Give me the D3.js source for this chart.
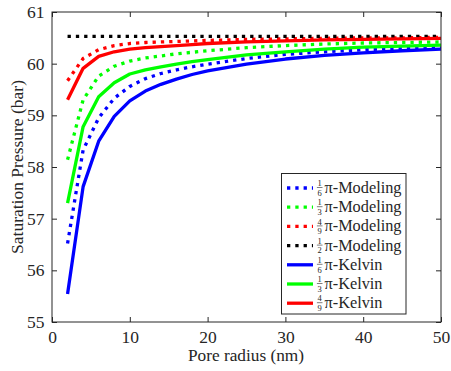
<!DOCTYPE html>
<html>
<head>
<meta charset="utf-8">
<script src="https://cdn.jsdelivr.net/npm/d3@7"></script>
<style>
  html, body { margin: 0; padding: 0; background: #fff; }
  svg { display: block; }
</style>
</head>
<body>
<svg id="chart" width="451" height="371"></svg>
<script>
// Pore radius (nm) at which each curve is sampled
const radius = [2, 4, 6, 8, 10, 12, 14, 16, 18, 20, 25, 30, 35, 40, 45, 50];

// Saturation pressure (bar), modeling results
const model16 = [56.52, 58.33, 58.95, 59.33, 59.56, 59.71, 59.81, 59.88, 59.94, 59.99, 60.10, 60.18, 60.23, 60.27, 60.30, 60.32];
const model13 = [58.14, 59.30, 59.76, 59.95, 60.05, 60.11, 60.15, 60.19, 60.22, 60.25, 60.31, 60.35, 60.38, 60.40, 60.41, 60.42];
const model49 = [59.67, 60.10, 60.27, 60.35, 60.39, 60.41, 60.42, 60.43, 60.44, 60.45, 60.47, 60.48, 60.49, 60.50, 60.50, 60.51];
const model12 = [60.53, 60.53, 60.53, 60.53, 60.53, 60.53, 60.53, 60.53, 60.53, 60.53, 60.53, 60.53, 60.53, 60.53, 60.53, 60.53];

// Saturation pressure (bar), Kelvin equation
const kelvin16 = [55.54, 57.62, 58.50, 58.98, 59.28, 59.47, 59.60, 59.70, 59.79, 59.86, 59.99, 60.09, 60.16, 60.21, 60.25, 60.28];
const kelvin13 = [57.30, 58.78, 59.36, 59.63, 59.80, 59.88, 59.94, 59.99, 60.04, 60.08, 60.17, 60.23, 60.28, 60.32, 60.34, 60.36];
const kelvin49 = [59.30, 59.91, 60.14, 60.23, 60.28, 60.31, 60.33, 60.35, 60.37, 60.39, 60.42, 60.44, 60.46, 60.47, 60.48, 60.49];

const xTicks = [0, 10, 20, 30, 40, 50];
const yTicks = [55, 56, 57, 58, 59, 60, 61];

const series = [
  { num: "1", den: "6", name: "π-Modeling", values: model16,  color: "#0000ff", dotted: true },
  { num: "1", den: "3", name: "π-Modeling", values: model13,  color: "#00ff00", dotted: true },
  { num: "4", den: "9", name: "π-Modeling", values: model49,  color: "#ff0000", dotted: true },
  { num: "1", den: "2", name: "π-Modeling", values: model12,  color: "#000000", dotted: true },
  { num: "1", den: "6", name: "π-Kelvin",   values: kelvin16, color: "#0000ff", dotted: false },
  { num: "1", den: "3", name: "π-Kelvin",   values: kelvin13, color: "#00ff00", dotted: false },
  { num: "4", den: "9", name: "π-Kelvin",   values: kelvin49, color: "#ff0000", dotted: false }
];

const FONT = "'Liberation Serif', 'DejaVu Serif', 'Times New Roman', serif";
const svg = d3.select("#chart").attr("font-family", FONT);
const axisColor = "#262626";
const L = 52, R = 441, T = 12, B = 322;

const x = d3.scaleLinear().domain([0, 50]).range([L, R]);
const y = d3.scaleLinear().domain([55, 61]).range([B, T]);

// Data curves
const line = d3.line().x((d, i) => x(radius[i])).y(d => y(d));
const plot = svg.append("g");
series.forEach(s => {
  plot.append("path")
    .attr("d", line(s.values))
    .attr("fill", "none")
    .attr("stroke", s.color)
    .attr("stroke-width", 3.3)
    .attr("stroke-linejoin", "round")
    .attr("stroke-dasharray", s.dotted ? "3.3,5" : null);
});

// Axes with inward ticks on all four sides
function styleAxis(g) {
  g.attr("font-family", FONT).attr("font-size", 17.5);
  g.select(".domain").remove();
  g.selectAll("line").attr("stroke", axisColor);
  g.selectAll("text").attr("fill", axisColor);
}
const fmt = d3.format("d");
svg.append("g").attr("transform", `translate(0,${B})`)
  .call(d3.axisBottom(x).tickValues(xTicks).tickFormat(fmt).tickSizeInner(-5).tickSizeOuter(0).tickPadding(8.5))
  .call(styleAxis);
svg.append("g").attr("transform", `translate(0,${T})`)
  .call(d3.axisTop(x).tickValues(xTicks).tickSizeInner(-5).tickSizeOuter(0).tickFormat(""))
  .call(styleAxis);
svg.append("g").attr("transform", `translate(${L},0)`)
  .call(d3.axisLeft(y).tickValues(yTicks).tickFormat(fmt).tickSizeInner(-5).tickSizeOuter(0).tickPadding(7.5))
  .call(styleAxis);
svg.append("g").attr("transform", `translate(${R},0)`)
  .call(d3.axisRight(y).tickValues(yTicks).tickSizeInner(-5).tickSizeOuter(0).tickFormat(""))
  .call(styleAxis);

svg.append("rect")
  .attr("x", L).attr("y", T).attr("width", R - L).attr("height", B - T)
  .attr("fill", "none").attr("stroke", axisColor).attr("stroke-width", 1);

// Axis titles
svg.append("text")
  .attr("x", (L + R) / 2 - 0.5).attr("y", 361)
  .attr("text-anchor", "middle").attr("font-size", 17.3).attr("fill", axisColor)
  .text("Pore radius (nm)");
svg.append("text")
  .attr("transform", `translate(22.5,${(T + B) / 2}) rotate(-90)`)
  .attr("text-anchor", "middle").attr("font-size", 17.5).attr("fill", axisColor)
  .text("Saturation Pressure (bar)");

// Legend
const lg = svg.append("g");
lg.append("rect")
  .attr("x", 281.5).attr("y", 173.5).attr("width", 124.5).attr("height", 140.5)
  .attr("fill", "#fff").attr("stroke", axisColor).attr("stroke-width", 1);
series.forEach((s, i) => {
  const ly = 188 + i * 19.2;
  lg.append("line")
    .attr("x1", 287).attr("x2", 313).attr("y1", ly).attr("y2", ly)
    .attr("stroke", s.color).attr("stroke-width", 3.3)
    .attr("stroke-dasharray", s.dotted ? "3.3,5" : null);
  // stacked fraction: numerator, bar, denominator
  const fx = 319.7, bar = ly - 0.5;
  lg.append("text").attr("x", fx).attr("y", bar - 1.3)
    .attr("text-anchor", "middle").attr("font-size", 8.5).attr("fill", axisColor).text(s.num);
  lg.append("line").attr("x1", fx - 2.8).attr("x2", fx + 2.8).attr("y1", bar).attr("y2", bar)
    .attr("stroke", axisColor).attr("stroke-width", 0.6);
  lg.append("text").attr("x", fx).attr("y", bar + 8.2)
    .attr("text-anchor", "middle").attr("font-size", 8.5).attr("fill", axisColor).text(s.den);
  lg.append("text").attr("x", 324.5).attr("y", ly + 5)
    .attr("font-size", 16.3).attr("fill", axisColor).text(s.name);
});
</script>
</body>
</html>
